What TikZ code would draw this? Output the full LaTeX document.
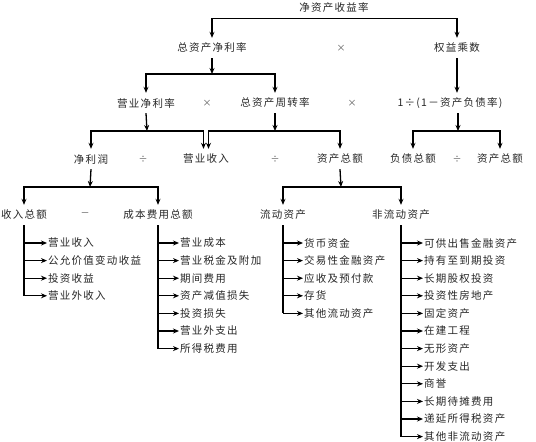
\documentclass[tikz,border=0pt]{standalone}
\usepackage{fontspec}
\usepackage{tikz}
\usetikzlibrary{arrows.meta,positioning}
\newfontfamily\cjk[LetterSpace=12]{Noto Sans CJK SC}

\begin{document}
\begin{tikzpicture}[
  x=1pt, y=-1pt,
  node distance=17.6pt,
  term/.style={font=\cjk\fontsize{10.5}{12}\selectfont, text=black!85, minimum height=20pt, inner sep=1pt},
  op/.style={font=\cjk\fontsize{9}{12}\selectfont, text=black!65},
  item/.style={font=\cjk\fontsize{10.5}{12}\selectfont, text=black!85, inner sep=1pt},
  arrow/.style={-{Stealth[length=6pt,width=5pt]}, line width=1.3pt},
  trunk/.style={line width=1.3pt}
]
\useasboundingbox (0,0) rectangle (536,442);

% ratio tree
\node[term] (roe) at (334,8) {净资产收益率};
\node[term] (roa) at (212,48) {总资产净利率};
\node[op] (x1) at (341,48) {×};
\node[term] (em) at (457,48) {权益乘数};
\node[term] (npm) at (146,103) {营业净利率};
\node[op] (x2) at (207,103) {×};
\node[term] (tat) at (275,103) {总资产周转率};
\node[op] (x3) at (352,103) {×};
\node[term] (dr) at (450,103) {1÷(1－资产负债率)};
\node[term] (np) at (91,159) {净利润};
\node[op] (d1) at (143,159) {÷};
\node[term] (rev) at (206,159) {营业收入};
\node[op] (d2) at (275,159) {÷};
\node[term] (ta) at (340,159) {资产总额};
\node[term] (tl) at (413,159) {负债总额};
\node[op] (d3) at (457,159) {÷};
\node[term] (ta2) at (500,159) {资产总额};
\node[term] (inc) at (24,215) {收入总额};
\node[op] (m1) at (85,215) {－};
\node[term] (cost) at (158,215) {成本费用总额};
\node[term] (ca) at (283,215) {流动资产};
\node[term] (nca) at (401,215) {非流动资产};

% junctions
\coordinate (j1) at (212,74);
\coordinate (j2) at (147,131);
\coordinate (j3) at (275,131);
\coordinate (j4) at (458,131);
\coordinate (j5) at (90,187);
\coordinate (j6) at (341,187);

\draw[arrow] (roe.south) -| (roa.north);
\draw[arrow] (roe.south) -| (em.north);
\draw[arrow] (roa.south) -- (j1);
\draw[arrow] (j1) -| (npm.north);
\draw[arrow] (j1) -| (tat.north);
\draw[arrow] (em.south) -- (em.south |- dr.north);
\draw[arrow] (npm.south) -- (j2);
\draw[arrow] (j2) -| (np.north);
\draw[arrow] (j2) -| ([xshift=-2.5pt]rev.north);
\draw[arrow] (tat.south) -- (j3);
\draw[arrow] (j3) -| ([xshift=2.5pt]rev.north);
\draw[arrow] (j3) -| (ta.north);
\draw[arrow] (j4 |- dr.south) -- (j4);
\draw[arrow] (j4) -| (tl.north);
\draw[arrow] (j4) -| (ta2.north);
\draw[arrow] (np.south) -- (j5);
\draw[arrow] (j5) -| (inc.north);
\draw[arrow] (j5) -| (cost.north);
\draw[arrow] (ta.south) -- (j6);
\draw[arrow] (j6) -| (ca.north);
\draw[arrow] (j6) -| (nca.north);

% income items
\node[item, anchor=west] (in1) at (47,243) {营业收入};
\node[item, below=of in1.west, anchor=west] (in2) {公允价值变动收益};
\node[item, below=of in2.west, anchor=west] (in3) {投资收益};
\node[item, below=of in3.west, anchor=west] (in4) {营业外收入};

% cost items
\node[item, anchor=west] (co1) at (179,243) {营业成本};
\node[item, below=of co1.west, anchor=west] (co2) {营业税金及附加};
\node[item, below=of co2.west, anchor=west] (co3) {期间费用};
\node[item, below=of co3.west, anchor=west] (co4) {资产减值损失};
\node[item, below=of co4.west, anchor=west] (co5) {投资损失};
\node[item, below=of co5.west, anchor=west] (co6) {营业外支出};
\node[item, below=of co6.west, anchor=west] (co7) {所得税费用};

% current assets
\node[item, anchor=west] (ca1) at (303,243) {货币资金};
\node[item, below=of ca1.west, anchor=west] (ca2) {交易性金融资产};
\node[item, below=of ca2.west, anchor=west] (ca3) {应收及预付款};
\node[item, below=of ca3.west, anchor=west] (ca4) {存货};
\node[item, below=of ca4.west, anchor=west] (ca5) {其他流动资产};

% non-current assets
\node[item, anchor=west] (nc1) at (423,243) {可供出售金融资产};
\node[item, below=of nc1.west, anchor=west] (nc2) {持有至到期投资};
\node[item, below=of nc2.west, anchor=west] (nc3) {长期股权投资};
\node[item, below=of nc3.west, anchor=west] (nc4) {投资性房地产};
\node[item, below=of nc4.west, anchor=west] (nc5) {固定资产};
\node[item, below=of nc5.west, anchor=west] (nc6) {在建工程};
\node[item, below=of nc6.west, anchor=west] (nc7) {无形资产};
\node[item, below=of nc7.west, anchor=west] (nc8) {开发支出};
\node[item, below=of nc8.west, anchor=west] (nc9) {商誉};
\node[item, below=of nc9.west, anchor=west] (nc10) {长期待摊费用};
\node[item, below=of nc10.west, anchor=west] (nc11) {递延所得税资产};
\node[item, below=of nc11.west, anchor=west] (nc12) {其他非流动资产};

% trunks
\draw[trunk] (inc.south) -- (inc.south |- in4.west);
\draw[trunk] (cost.south) -- (cost.south |- co7.west);
\draw[trunk] (ca.south) -- (ca.south |- ca5.west);
\draw[trunk] (nca.south) -- (nca.south |- nc12.west);

\draw[arrow] (inc.south |- in1.west) -- (in1.west);
\draw[arrow] (inc.south |- in2.west) -- (in2.west);
\draw[arrow] (inc.south |- in3.west) -- (in3.west);
\draw[arrow] (inc.south |- in4.west) -- (in4.west);

\draw[arrow] (cost.south |- co1.west) -- (co1.west);
\draw[arrow] (cost.south |- co2.west) -- (co2.west);
\draw[arrow] (cost.south |- co3.west) -- (co3.west);
\draw[arrow] (cost.south |- co4.west) -- (co4.west);
\draw[arrow] (cost.south |- co5.west) -- (co5.west);
\draw[arrow] (cost.south |- co6.west) -- (co6.west);
\draw[arrow] (cost.south |- co7.west) -- (co7.west);

\draw[arrow] (ca.south |- ca1.west) -- (ca1.west);
\draw[arrow] (ca.south |- ca2.west) -- (ca2.west);
\draw[arrow] (ca.south |- ca3.west) -- (ca3.west);
\draw[arrow] (ca.south |- ca4.west) -- (ca4.west);
\draw[arrow] (ca.south |- ca5.west) -- (ca5.west);

\draw[arrow] (nca.south |- nc1.west) -- (nc1.west);
\draw[arrow] (nca.south |- nc2.west) -- (nc2.west);
\draw[arrow] (nca.south |- nc3.west) -- (nc3.west);
\draw[arrow] (nca.south |- nc4.west) -- (nc4.west);
\draw[arrow] (nca.south |- nc5.west) -- (nc5.west);
\draw[arrow] (nca.south |- nc6.west) -- (nc6.west);
\draw[arrow] (nca.south |- nc7.west) -- (nc7.west);
\draw[arrow] (nca.south |- nc8.west) -- (nc8.west);
\draw[arrow] (nca.south |- nc9.west) -- (nc9.west);
\draw[arrow] (nca.south |- nc10.west) -- (nc10.west);
\draw[arrow] (nca.south |- nc11.west) -- (nc11.west);
\draw[arrow] (nca.south |- nc12.west) -- (nc12.west);
\end{tikzpicture}
\end{document}
